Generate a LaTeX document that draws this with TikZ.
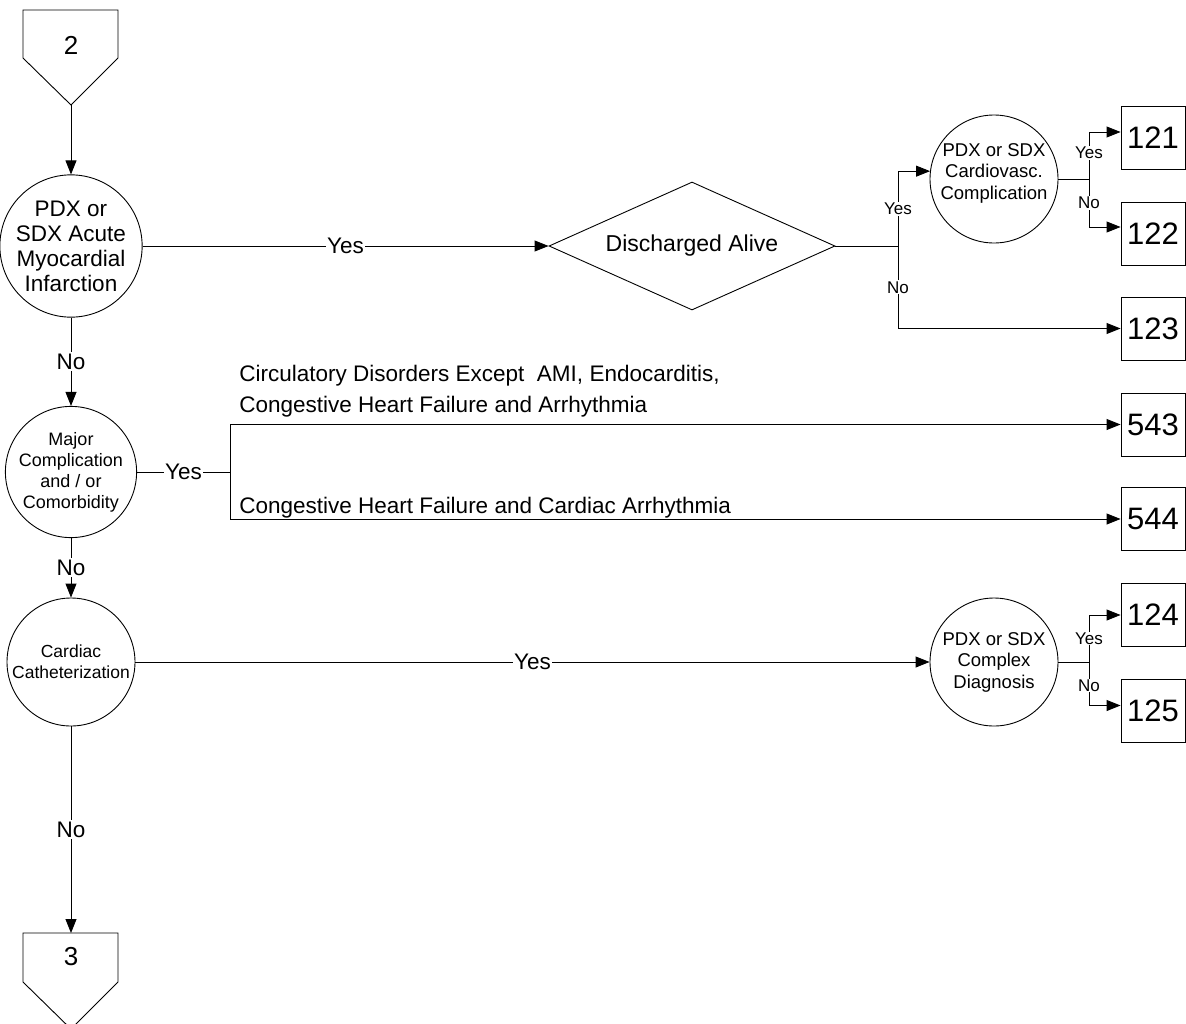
\documentclass[tikz,border=0pt]{standalone}
\usepackage{fontspec}
\setmainfont{Liberation Sans}
\usetikzlibrary{arrows.meta,shapes.geometric}
\begin{document}
\begin{tikzpicture}[x=1pt,y=-1pt,
  line width=0.9pt,
  arr/.style={-{Triangle[length=14pt,width=11pt]}},
  dec/.style={draw,circle,minimum size=128pt,inner sep=0pt,align=center},
  outbox/.style={draw,minimum width=64pt,minimum height=63pt,inner sep=0pt,font=\fontsize{31}{34}\selectfont},
  lbl/.style={fill=white,inner sep=1.5pt,font=\fontsize{22.5}{25}\selectfont},
  slbl/.style={fill=white,inner sep=1pt,font=\fontsize{17}{19}\selectfont},
  conntext/.style={inner sep=0pt,font=\fontsize{26}{28}\selectfont},
  plain/.style={inner sep=0pt,font=\fontsize{22.5}{31}\selectfont,align=left}
]
\useasboundingbox (0,0) rectangle (1186,1023);

% off-page connector 2
\coordinate (c2tip) at (71,105);
\draw (23,10) -- (118,10) -- (118,58) -- (c2tip) -- (23,58) -- cycle;
\node[conntext] (c2) at (71,45) {2};

% decision AMI
\node[dec,font=\fontsize{22.5}{25}\selectfont] (q1) at (71,246) {PDX or\\SDX Acute\\Myocardial\\Infarction};
\draw[arr] (c2tip) -- (q1);

% Discharged alive
\node[draw,diamond,shape aspect=2.23,minimum width=286pt,minimum height=128pt,inner sep=0pt,font=\fontsize{23}{25}\selectfont] (d) at (692,246) {Discharged Alive};
\draw[arr] (q1) -- node[lbl]{Yes} (d);

\coordinate (j0) at (898,246);
\draw (d.east) -- (j0);

% cardiovasc complication
\node[dec] (q4) at (994,179) {};
\node[inner sep=0pt,align=center,font=\fontsize{18.5}{21.5}\selectfont] (t4) at (994,173) {PDX or SDX\\Cardiovasc.\\Complication};
\draw[arr] (j0) |- node[slbl,pos=0.25]{Yes} (q4.173);

\node[outbox] (b121) at (1153,138) {121};
\node[outbox] (b122) at (1153,233.5) {122};
\node[outbox] (b123) at (1153,328.5) {123};

\coordinate (j1) at (1089,179);
\draw (q4.east) -- (j1);
\draw[arr] (j1) |- node[slbl,pos=0.28]{Yes} ([yshift=6pt]b121.west);
\draw[arr] (j1) |- node[slbl,pos=0.25]{No} ([yshift=6.5pt]b122.west);
\draw[arr] (j0) |- node[slbl,pos=0.25]{No} (b123.west);

% major complication
\node[dec,font=\fontsize{18}{21}\selectfont] (q2) at (71,472) {Major\\Complication\\and / or\\Comorbidity};
\draw[arr] (q1) -- node[lbl]{No} (q2);

\coordinate (jY) at (230,472);
\draw (q2.east) -- node[lbl]{Yes} (jY);
\node[outbox] (b543) at (1153,424.5) {543};
\node[outbox] (b544) at (1153,519) {544};
\draw[arr] (jY) |- (b543.west);
\draw[arr] (jY) |- (b544.west);
\node[plain,anchor=west] (t543) at (239,391) {Circulatory Disorders Except\ \ AMI, Endocarditis,\\Congestive Heart Failure and Arrhythmia};
\node[plain,anchor=base west] (t544) at (239,513) {Congestive Heart Failure and Cardiac Arrhythmia};

% cardiac catheterization
\node[dec,font=\fontsize{17.5}{21}\selectfont] (q3) at (71,662) {Cardiac\\Catheterization};
\draw[arr] (q2) -- node[lbl]{No} (q3);

\node[dec,font=\fontsize{18.5}{21.5}\selectfont] (q5) at (994,662) {PDX or SDX\\Complex\\Diagnosis};
\draw[arr] (q3) -- node[lbl]{Yes} (q5);

\node[outbox] (b124) at (1153,615) {124};
\node[outbox] (b125) at (1153,710.5) {125};
\coordinate (j2) at (1089,662);
\draw (q5.east) -- (j2);
\draw[arr] (j2) |- node[slbl,pos=0.25]{Yes} (b124.west);
\draw[arr] (j2) |- node[slbl,pos=0.27]{No} ([yshift=5pt]b125.west);

% off-page connector 3
\coordinate (c3top) at (71,933);
\draw (23,933) -- (118,933) -- (118,982) -- (71,1029) -- (23,982) -- cycle;
\node[conntext] (c3) at (71,957) {3};
\draw[arr] (q3) -- node[lbl]{No} (c3top);
\end{tikzpicture}
\end{document}
